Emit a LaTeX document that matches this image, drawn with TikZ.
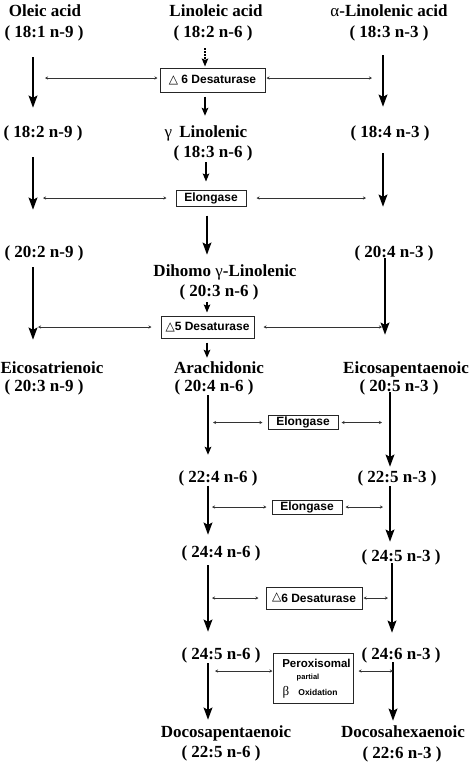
\documentclass[tikz,border=0pt]{standalone}
\usepackage{fontspec}
\setmainfont{Liberation Serif}
\newfontfamily\sansf{Liberation Sans}
\newfontfamily\dvs{DejaVu Sans}
\usetikzlibrary{arrows.meta}
\begin{document}
\begin{tikzpicture}[x=1pt,y=-1pt,
 txt/.style={font=\fontsize{17}{18}\selectfont\bfseries, inner sep=0pt, text height=11.5pt, text depth=3.5pt},
 enz/.style={draw=black!85, line width=1pt, inner sep=0pt, font=\sansf\fontsize{12}{14}\selectfont\bfseries},
 big/.style={line width=2.4pt, -{Stealth[length=12pt,width=8.5pt,inset=2pt]}},
 med/.style={line width=1.7pt, -{Stealth[length=8pt,width=6.5pt,inset=1.5pt]}},
 hz/.style={line width=0.8pt, black!80, {Stealth[length=3pt,width=3pt]}-{Stealth[length=3pt,width=3pt]}},
 tri/.style={font=\dvs\fontsize{11}{12}\selectfont}]
\fill[white] (0,0) rectangle (474,764);
\useasboundingbox (0,0) rectangle (474,764);

% column coordinates
\coordinate (xL) at (33,0);
\coordinate (xR1) at (383,0);
\coordinate (xR2) at (385,0);
\coordinate (xR3) at (390,0);
\coordinate (xR4) at (392,0);
\coordinate (xR5) at (393,0);
\coordinate (xM1) at (205,0);
\coordinate (xM2) at (206,0);
\coordinate (xM3) at (207,0);
\coordinate (xM4) at (208,0);

% left column
\node[txt] (oleic) at (45,12) {Oleic acid};
\node[txt] (o181) at (44,33) {( 18:1 n-9 )};
\node[txt] (o182) at (43,133) {( 18:2 n-9 )};
\node[txt] (o202) at (44,253) {( 20:2 n-9 )};
\node[txt] (eicotri) at (52,369) {Eicosatrienoic};
\node[txt] (o203) at (44,387) {( 20:3 n-9 )};

% middle column
\node[txt] (linoleic) at (216,12) {Linoleic acid};
\node[txt] (m182) at (213,33) {( 18:2 n-6 )};
\node[txt] (gamma) at (206,133) {\textmd{γ}\hspace{7pt}Linolenic};
\node[txt] (m183) at (213,153) {( 18:3 n-6 )};
\node[txt] (dihomo) at (225,272) {Dihomo \textmd{γ}-Linolenic};
\node[txt] (m203) at (219,292) {( 20:3 n-6 )};
\node[txt] (arach) at (219,369) {Arachidonic};
\node[txt] (m204) at (214,387) {( 20:4 n-6 )};
\node[txt] (m224) at (218,478) {( 22:4 n-6 )};
\node[txt] (m244) at (221,553) {( 24:4 n-6 )};
\node[txt] (m245) at (221,655) {( 24:5 n-6 )};
\node[txt] (docosap) at (226,733) {Docosapentaenoic};
\node[txt] (m225) at (221,753) {( 22:5 n-6 )};

% right column
\node[txt] (alin) at (389,12) {\textmd{α}-Linolenic acid};
\node[txt] (r183) at (389,33) {( 18:3 n-3 )};
\node[txt] (r184) at (390,133) {( 18:4 n-3 )};
\node[txt] (r204) at (394,253) {( 20:4 n-3 )};
\node[txt] (eicopen) at (406,369) {Eicosapentaenoic};
\node[txt] (r205) at (399,387) {( 20:5 n-3 )};
\node[txt] (r225) at (397,478) {( 22:5 n-3 )};
\node[txt] (r245) at (401,557) {( 24:5 n-3 )};
\node[txt] (r246) at (401,655) {( 24:6 n-3 )};
\node[txt] (docosah) at (403,733) {Docosahexaenoic};
\node[txt] (r226) at (402,754) {( 22:6 n-3 )};

% enzyme boxes
\node[enz, minimum width=105pt, minimum height=24pt] (e1) at (212.5,80) {{\dvs △} 6 Desaturase};
\node[enz, minimum width=70pt, minimum height=16pt] (e2) at (211,198) {Elongase};
\node[enz, minimum width=93pt, minimum height=22pt] (e3) at (207.5,327) {{\dvs △}5 Desaturase};
\node[enz, minimum width=70pt, minimum height=14pt] (e4) at (303,422.5) {Elongase};
\node[enz, minimum width=70pt, minimum height=14pt] (e5) at (307,507) {Elongase};
\node[enz, minimum width=96pt, minimum height=22pt] (e6) at (314,598) {\raisebox{2pt}{\dvs △}6 Desaturase};
\node[enz, minimum width=80pt, minimum height=50pt] (e7) at (313,678) {};
\node[inner sep=0pt, font=\sansf\fontsize{11.5}{12}\selectfont\bfseries] (perox) at (316.5,663) {Peroxisomal};
\node[inner sep=0pt, font=\sansf\fontsize{7.5}{8}\selectfont\bfseries] (partial) at (308,678) {partial};
\node[inner sep=0pt, font=\fontsize{13}{14}\selectfont] (beta) at (286,692) {β};
\node[inner sep=0pt, font=\sansf\fontsize{8.5}{9}\selectfont\bfseries] (oxid) at (318,692) {Oxidation};

% left vertical arrows
\draw[big, shorten <=16.5pt, shorten >=17.5pt] (o181.south -| xL) -- (o182.north -| xL);
\draw[big, shorten <=16.5pt, shorten >=35.5pt] (o182.south -| xL) -- (o202.north -| xL);
\draw[big, shorten <=6.5pt, shorten >=21.5pt] (o202.south -| xL) -- (eicotri.north -| xL);

% right vertical arrows
\draw[big, shorten <=14.5pt, shorten >=18.5pt] (r183.south -| xR1) -- (r184.north -| xR1);
\draw[big, shorten <=12.5pt, shorten >=38.5pt] (r184.south -| xR1) -- (r204.north -| xR1);
\draw[big, shorten <=-2.5pt, shorten >=26.5pt] (r204.south -| xR2) -- (eicopen.north -| xR2);
\draw[big, shorten <=-2.5pt, shorten >=3.5pt] (r205.south -| xR3) -- (r225.north -| xR3);
\draw[big, shorten <=0.5pt, shorten >=7.5pt] (r225.south -| xR3) -- (r245.north -| xR3);
\draw[big, shorten <=-1.5pt, shorten >=14.5pt] (r245.south -| xR4) -- (r246.north -| xR4);
\draw[big, shorten <=-0.5pt, shorten >=4.5pt] (r246.south -| xR5) -- (docosah.north -| xR5);

% middle vertical arrows
\draw[med, dash pattern=on 2pt off 1pt, shorten <=7.5pt, shorten >=1pt] (m182.south -| xM1) -- (e1.north -| xM1);
\draw[med, shorten <=4pt, shorten >=9.5pt] (e1.south -| xM1) -- (gamma.north -| xM1);
\draw[med, shorten <=1.5pt, shorten >=8pt] (m183.south -| xM2) -- (e2.north -| xM2);
\draw[big, shorten <=9pt, shorten >=9.5pt] (e2.south -| xM3) -- (dihomo.north -| xM3);
\draw[med, shorten <=2.5pt, shorten >=3pt] (m203.south -| xM3) -- (e3.north -| xM3);
\draw[med, shorten <=4pt, shorten >=3.5pt] (e3.south -| xM3) -- (arach.north -| xM3);
\draw[med, shorten <=0.5pt, shorten >=15.5pt] (m204.south -| xM4) -- (m224.north -| xM4);
\draw[big, shorten <=0pt, shorten >=10.5pt] (m224.south -| xM4) -- (m244.north -| xM4);
\draw[big, shorten <=4.5pt, shorten >=15.5pt] (m244.south -| xM4) -- (m245.north -| xM4);
\draw[big, shorten <=0.5pt, shorten >=5.5pt] (m245.south -| xM4) -- (docosap.north -| xM4);

% horizontal connectors
\draw[hz, shorten <=2pt, shorten >=12pt] ([yshift=2pt]e1.west) -- ([yshift=2pt]e1.west -| xL);
\draw[hz, shorten <=1pt, shorten >=11pt] ([yshift=2pt]e1.east) -- ([yshift=2pt]e1.east -| xR1);
\draw[hz, shorten <=9pt, shorten >=10pt] (e2.west) -- (e2.west -| xL);
\draw[hz, shorten <=10pt, shorten >=17pt] (e2.east) -- (e2.east -| xR1);
\draw[hz, shorten <=9pt, shorten >=5pt] (e3.west) -- (e3.west -| xL);
\draw[hz, shorten <=9pt, shorten >=3pt] (e3.east) -- (e3.east -| xR2);
\draw[hz, shorten <=5pt, shorten >=5pt] (e4.west) -- (e4.west -| xM4);
\draw[hz, shorten <=3pt, shorten >=8pt] (e4.east) -- (e4.east -| xR3);
\draw[hz, shorten <=5pt, shorten >=4pt] (e5.west) -- (e5.west -| xM4);
\draw[hz, shorten <=3pt, shorten >=7pt] (e5.east) -- (e5.east -| xR3);
\draw[hz, shorten <=7pt, shorten >=4pt] (e6.west) -- (e6.west -| xM4);
\draw[hz, shorten <=1pt, shorten >=4pt] (e6.east) -- (e6.east -| xR4);
\draw[hz, shorten <=0pt, shorten >=7pt] ([yshift=7pt]e7.west) -- ([yshift=7pt]e7.west -| xM4);
\draw[hz, shorten <=5pt, shorten >=0pt] ([yshift=7pt]e7.east) -- ([yshift=7pt]e7.east -| xR5);
\end{tikzpicture}
\end{document}
